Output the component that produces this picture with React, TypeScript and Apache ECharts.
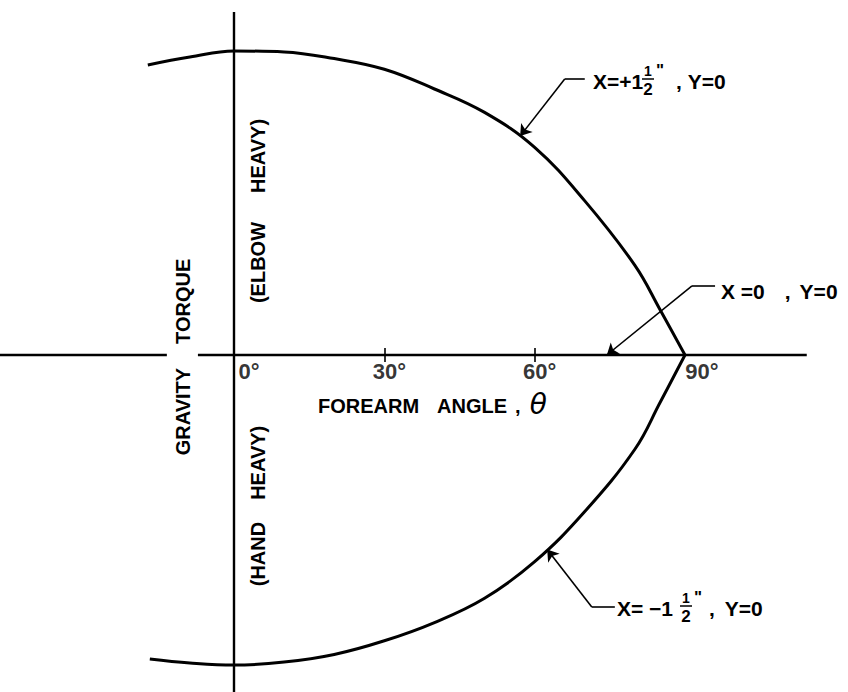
import React, { useEffect, useRef } from "react";
import * as echarts from "echarts";

// ---- data ----
const angleTicks = [0, 30, 60, 90];
const tickMarks = [30, 60];

// X = +1 1/2", Y = 0  (elbow heavy side)
const upperTheta = [-17.2, -8.8, 0, 10, 20, 30, 40, 50, 60, 70, 80, 85, 90];
const upperTorque = [0.954, 0.98, 1.0, 0.997, 0.975, 0.94, 0.875, 0.798, 0.683, 0.507, 0.295, 0.15, 0];

// X = -1 1/2", Y = 0  (hand heavy side)
const lowerTheta = [-16.8, -8.8, 0, 10, 20, 30, 40, 50, 60, 70, 80, 85, 90];
const lowerTorque = [-1.0, -1.013, -1.02, -1.01, -0.985, -0.94, -0.88, -0.8, -0.68, -0.515, -0.31, -0.157, 0];

// axis extents (angle / torque units)
const hAxisLeft = [-46.7, -13.4];
const hAxisRight = [-7.2, 114.3];
const vAxis = [1.128, -1.11];

// leader lines: [end of horizontal, corner, arrow tip]
const leaderUpper = [[70.0, 0.908], [66.0, 0.908], [57.1, 0.72]];
const leaderMiddle = [[96.0, 0.227], [91.4, 0.227], [74.4, 0.0]];
const leaderLower = [[76.0, -0.829], [71.4, -0.829], [62.5, -0.64]];

const X_MIN = -46.697;
const X_MAX = 122.53;
const Y_MIN = -1.10855;
const Y_MAX = 1.16776;

const FAM = "'Liberation Sans', Arial, Helvetica, sans-serif";
const BLACK = "#000";

const pairs = (xs: number[], ys: number[]) => xs.map((x, i) => [x, ys[i]]);

const labelShift: Record<number, number> = { 0: 30, 30: 10, 60: 10, 90: 34 };

function buildOption() {
  const rich: Record<string, any> = {};
  angleTicks.forEach((v) => {
    rich["t" + v] = {
      fontFamily: FAM,
      fontWeight: "bold",
      fontSize: 22,
      color: BLACK,
      padding: [0, 0, 0, labelShift[v] ?? 0],
    };
  });

  const seg = (a: number[], b: number[]) => [{ coord: a }, { coord: b }];
  const tickSegs = tickMarks.map((t) => seg([t, 0.023], [t, -0.023]));

  const plainSegs = [
    seg(leaderUpper[0], leaderUpper[1]),
    seg(leaderMiddle[0], leaderMiddle[1]),
    seg(leaderLower[0], leaderLower[1]),
    ...tickSegs,
  ];
  const arrowSegs = [
    seg(leaderUpper[1], leaderUpper[2]),
    seg(leaderMiddle[1], leaderMiddle[2]),
    seg(leaderLower[1], leaderLower[2]),
  ];

  const txt = (s: string, x: number, y: number, size: number, extra: any = {}) => ({
    type: "text",
    x,
    y,
    silent: true,
    style: {
      text: s,
      fontFamily: FAM,
      fontWeight: "bold",
      fontSize: size,
      fill: BLACK,
      align: "left",
      verticalAlign: "middle",
      ...extra,
    },
  });

  const richA = { fontFamily: FAM, fontWeight: "bold", fontSize: 20, fill: BLACK };
  const richB = { fontFamily: FAM, fontWeight: "bold", fontSize: 21, fill: BLACK };

  const vtext = (a: string, b: string, gap: number, x: number, y: number) => ({
    type: "text",
    x,
    y,
    rotation: Math.PI / 2,
    silent: true,
    style: {
      text: `{a|${a}}{g| }{a|${b}}`,
      rich: { a: richA, g: { width: gap, fontSize: 20 } },
      align: "center",
      verticalAlign: "middle",
    },
  });

  const fraction = (x: number, y: number) => [
    txt("1", x, y - 10, 14, { align: "center" }),
    {
      type: "line",
      silent: true,
      shape: { x1: x - 6, y1: y - 2, x2: x + 6, y2: y - 2 },
      style: { stroke: BLACK, lineWidth: 1.5 },
    },
    txt("2", x, y + 8, 17, { align: "center" }),
    txt('"', x + 12, y - 11, 17, { align: "center" }),
  ];

  const graphic: any[] = [
    vtext("GRAVITY", "TORQUE", 24, 183, 357),
    vtext("(ELBOW", "HEAVY)", 29, 258, 211),
    vtext("(HAND", "HEAVY)", 22, 258, 506),
    {
      type: "text",
      x: 318,
      y: 406,
      silent: true,
      style: {
        text: "{a|FOREARM}{g| }{a|ANGLE}{h| }{a|,}{t|θ}",
        rich: {
          a: richA,
          g: { width: 18, fontSize: 20 },
          h: { width: 8, fontSize: 20 },
          t: {
            fontFamily: "'DejaVu Sans', sans-serif",
            fontStyle: "italic",
            fontSize: 28,
            fill: BLACK,
            padding: [0, 0, 4, 9],
          },
        },
        align: "left",
        verticalAlign: "middle",
      },
    },
    // upper annotation
    txt("X=+1", 593, 81, 21),
    ...fraction(648, 81),
    {
      type: "text",
      x: 676,
      y: 81,
      silent: true,
      style: {
        text: "{b|,}{g| }{b|Y=0}",
        rich: { b: richB, g: { width: 6, fontSize: 20 } },
        align: "left",
        verticalAlign: "middle",
      },
    },
    // middle annotation
    {
      type: "text",
      x: 721,
      y: 291,
      silent: true,
      style: {
        text: "{b|X =0}{g| }{b|,}{h| }{b|Y=0}",
        rich: { b: richB, g: { width: 20, fontSize: 20 }, h: { width: 9, fontSize: 20 } },
        align: "left",
        verticalAlign: "middle",
      },
    },
    // lower annotation
    txt("X= −1", 617, 608, 21),
    ...fraction(686, 608),
    {
      type: "text",
      x: 709,
      y: 608,
      silent: true,
      style: {
        text: "{b|,}{g| }{b|Y=0}",
        rich: { b: richB, g: { width: 10, fontSize: 20 } },
        align: "left",
        verticalAlign: "middle",
      },
    },
  ];

  const markBase = {
    silent: true,
    animation: false,
    label: { show: false },
    emphasis: { disabled: true },
    lineStyle: { color: BLACK, width: 1.6, type: "solid" },
  };

  return {
    animation: false,
    backgroundColor: "#fff",
    grid: { left: 0, right: 0, top: 0, bottom: 0, containLabel: false, outerBoundsMode: "none" },
    xAxis: {
      type: "value",
      min: X_MIN,
      max: X_MAX,
      axisLine: { show: false },
      axisTick: { show: false },
      splitLine: { show: false },
      axisLabel: { show: false },
    },
    yAxis: {
      type: "value",
      min: Y_MIN,
      max: Y_MAX,
      axisLine: { show: false },
      axisTick: { show: false },
      splitLine: { show: false },
      axisLabel: { show: false },
    },
    series: [
      {
        type: "line",
        name: "axis-left",
        data: [[hAxisLeft[0], 0], [hAxisLeft[1], 0]],
        symbol: "none",
        silent: true,
        lineStyle: { color: BLACK, width: 2.4 },
      },
      {
        type: "line",
        name: "axis-right",
        data: [[hAxisRight[0], 0], [hAxisRight[1], 0]],
        symbol: "none",
        silent: true,
        lineStyle: { color: BLACK, width: 2.4 },
        markLine: { ...markBase, symbol: ["none", "none"], data: plainSegs },
      },
      {
        type: "line",
        name: "axis-vertical",
        data: [[0, vAxis[0]], [0, vAxis[1]]],
        symbol: "none",
        silent: true,
        lineStyle: { color: BLACK, width: 2.4 },
        markLine: { ...markBase, symbol: ["none", "arrow"], symbolSize: 11, data: arrowSegs },
      },
      {
        type: "line",
        name: 'X=+1½", Y=0',
        data: pairs(upperTheta, upperTorque),
        symbol: "none",
        smooth: 0.4,
        silent: true,
        lineStyle: { color: BLACK, width: 3 },
      },
      {
        type: "line",
        name: 'X=-1½", Y=0',
        data: pairs(lowerTheta, lowerTorque),
        symbol: "none",
        smooth: 0.4,
        silent: true,
        lineStyle: { color: BLACK, width: 3 },
      },
      {
        type: "scatter",
        name: "angle-labels",
        data: angleTicks.map((v) => [v, 0]),
        symbol: "circle",
        symbolSize: 1,
        silent: true,
        itemStyle: { color: "rgba(0,0,0,0)" },
        label: {
          show: true,
          position: "bottom",
          distance: 5,
          formatter: (p: any) => `{t${p.value[0]}|${p.value[0]}°}`,
          rich,
        },
      },
    ],
    graphic,
  };
}

export default function App() {
  const ref = useRef<HTMLDivElement>(null);
  useEffect(() => {
    if (!ref.current) return;
    const chart = echarts.init(ref.current, null, { renderer: "svg" });
    chart.setOption(buildOption() as any);
    return () => chart.dispose();
  }, []);
  return (
    <div
      ref={ref}
      style={{ position: "absolute", left: 0, top: 0, width: 848, height: 692, background: "#fff" }}
    />
  );
}
